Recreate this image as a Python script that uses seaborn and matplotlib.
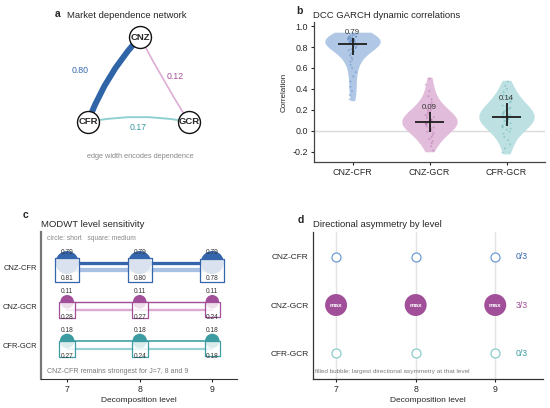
import numpy as np
import pandas as pd
import matplotlib
matplotlib.use('Agg')
import matplotlib.pyplot as plt
import seaborn as sns

# ---- data ----
pairs = ['CNZ-CFR', 'CNZ-GCR', 'CFR-GCR']
pair_colors = ['#3566ab', '#a24f99', '#3c9ca1']
light_colors = ['#a9c2e3', '#dcaad3', '#9ad2d4']
violin_colors = ['#b0c8e6', '#e2bcdb', '#bde1e2']
open_colors = ['#6f9bd2', '#a24f99', '#8ccacc']

# panel a: network
nodes = ['CNZ', 'CFR', 'GCR']
edge_pairs = [('CNZ', 'CFR'), ('CNZ', 'GCR'), ('CFR', 'GCR')]
edge_values = [0.80, 0.12, 0.17]

# panel b: DCC GARCH correlations
cnz_cfr = [0.93, 0.92, 0.91, 0.91, 0.90, 0.90, 0.90, 0.89, 0.89, 0.89, 0.88, 0.88,
           0.88, 0.88, 0.87, 0.87, 0.87, 0.87, 0.87, 0.86, 0.86, 0.86, 0.86, 0.85,
           0.85, 0.85, 0.84, 0.84, 0.83, 0.83, 0.82, 0.81, 0.80, 0.79, 0.78, 0.77,
           0.76, 0.75, 0.74, 0.72, 0.70, 0.68, 0.66, 0.63, 0.60, 0.56, 0.52, 0.47,
           0.42, 0.38, 0.34, 0.30]
cnz_gcr = [0.50, 0.44, 0.38, 0.33, 0.30, 0.27, 0.25, 0.23, 0.21, 0.20, 0.19, 0.18,
           0.17, 0.16, 0.15, 0.14, 0.13, 0.12, 0.11, 0.10, 0.10, 0.09, 0.09, 0.08,
           0.08, 0.07, 0.07, 0.06, 0.06, 0.05, 0.04, 0.03, 0.02, 0.01, 0.00, -0.01,
           -0.02, -0.04, -0.06, -0.08, -0.10, -0.12, -0.15, -0.19]
cfr_gcr = [0.47, 0.43, 0.40, 0.37, 0.34, 0.32, 0.30, 0.28, 0.27, 0.25, 0.24, 0.23,
           0.22, 0.21, 0.20, 0.19, 0.18, 0.17, 0.16, 0.15, 0.15, 0.14, 0.13, 0.13,
           0.12, 0.11, 0.11, 0.10, 0.09, 0.08, 0.07, 0.06, 0.05, 0.04, 0.03, 0.02,
           0.01, -0.01, -0.03, -0.06, -0.09, -0.13, -0.17, -0.21]
dcc_means = [0.79, 0.09, 0.14]
dcc_centre = [0.83, 0.08, 0.13]
dcc_low = [0.72, -0.01, 0.04]
dcc_high = [0.89, 0.18, 0.26]

# panel c: MODWT level sensitivity
levels = [7, 8, 9]
short_corr = {'CNZ-CFR': [0.79, 0.79, 0.79],
              'CNZ-GCR': [0.11, 0.11, 0.11],
              'CFR-GCR': [0.18, 0.18, 0.18]}
medium_corr = {'CNZ-CFR': [0.81, 0.80, 0.78],
               'CNZ-GCR': [0.28, 0.27, 0.24],
               'CFR-GCR': [0.27, 0.24, 0.18]}

# panel d: pair with largest directional asymmetry at each level
max_asym_pair = ['CNZ-GCR', 'CNZ-GCR', 'CNZ-GCR']

# ---- style ----
sns.set_theme(style='ticks')
plt.rcParams['font.family'] = ['Liberation Sans', 'DejaVu Sans']
plt.rcParams['axes.unicode_minus'] = False

W, H = 550, 408
fig = plt.figure(figsize=(5.5, 4.08), dpi=100)


def box(x0, y0, x1, y1):
    return [x0 / W, 1 - y1 / H, (x1 - x0) / W, (y1 - y0) / H]


def ftext(x, y, s, **kw):
    fig.text(x / W, 1 - y / H, s, **kw)


# ---- panel a ----
axa = fig.add_axes(box(40, 20, 240, 170))
axa.set_xlim(40, 240)
axa.set_ylim(170, 20)
axa.axis('off')
node_xy = {'CNZ': (140, 37), 'CFR': (88, 122), 'GCR': (189, 122)}
edge_colors = ['#2f64a6', '#dcaad3', '#8fcfd1']
edge_rad = [0.1, 0.02, -0.1]
label_offset = [(-34, -9), (11, -3), (0, 5)]
for (n1, n2), v, c, rad, lc, off in zip(edge_pairs, edge_values, edge_colors,
                                         edge_rad, pair_colors, label_offset):
    axa.annotate('', xy=node_xy[n2], xytext=node_xy[n1],
                 arrowprops=dict(arrowstyle='-', color=c, lw=0.6 + 4.6 * v,
                                 connectionstyle=f'arc3,rad={rad}',
                                 shrinkA=6, shrinkB=6), zorder=1)
    mx = (node_xy[n1][0] + node_xy[n2][0]) / 2 + off[0]
    my = (node_xy[n1][1] + node_xy[n2][1]) / 2 + off[1]
    axa.text(mx, my, f'{v:.2f}', color=lc, fontsize=6.3, ha='center', va='center')
axa.scatter([node_xy[n][0] for n in nodes], [node_xy[n][1] for n in nodes],
            s=250, facecolor='white', edgecolor='#111111', linewidth=1, zorder=3)
for n in nodes:
    axa.text(*node_xy[n], n, fontsize=6.8, fontweight='bold', ha='center',
             va='center', zorder=4)
axa.text(140, 156, 'edge width encodes dependence', color='#8a8a8a', fontsize=5.3,
         ha='center', va='center')
ftext(55, 14, 'a', fontsize=7.5, fontweight='bold', va='center')
ftext(67, 15, 'Market dependence network', fontsize=6.8, va='center')

# ---- panel b ----
axb = fig.add_axes(box(314, 22, 545, 162))
dcc = pd.DataFrame({
    'pair': ['CNZ-CFR'] * len(cnz_cfr) + ['CNZ-GCR'] * len(cnz_gcr) + ['CFR-GCR'] * len(cfr_gcr),
    'corr': cnz_cfr + cnz_gcr + cfr_gcr,
})
axb.axhline(0, color='#dadada', lw=1, zorder=0)
sns.violinplot(data=dcc, x='pair', y='corr', hue='pair', order=pairs, hue_order=pairs,
               palette=violin_colors, saturation=1, inner=None, cut=0.15,
               density_norm='width', width=0.72, linewidth=0, bw_adjust=1.15,
               legend=False, ax=axb)
np.random.seed(3)
sns.stripplot(data=dcc, x='pair', y='corr', hue='pair', order=pairs, hue_order=pairs,
              palette=pair_colors, size=1.4, alpha=0.35, jitter=0.06,
              legend=False, ax=axb, zorder=2)
xs = np.arange(len(pairs))
axb.hlines(dcc_centre, xs - 0.19, xs + 0.19, color='#1e1e1e', lw=1.3, zorder=4)
axb.vlines(xs, dcc_low, dcc_high, color='#1e1e1e', lw=1.3, zorder=4)
for x, hi, m in zip(xs, dcc_high, dcc_means):
    axb.text(x, hi + 0.045, f'{m:.2f}', fontsize=5.6, ha='center', va='center',
             color='#333333', zorder=5)
axb.set_xlim(-0.5, 2.5)
axb.set_ylim(-0.3, 1.04)
axb.set_yticks([-0.2, 0.0, 0.2, 0.4, 0.6, 0.8, 1.0])
axb.set_yticklabels([f'{t:.1f}' for t in [-0.2, 0.0, 0.2, 0.4, 0.6, 0.8, 1.0]])
axb.set_xlabel('')
axb.set_ylabel('Correlation', fontsize=5.8, labelpad=3)
axb.tick_params(labelsize=6.4, length=2.5, width=0.8, pad=2)
for s in ['left', 'bottom']:
    axb.spines[s].set_color('#444444')
    axb.spines[s].set_linewidth(0.9)
sns.despine(ax=axb)
ftext(296, 11, 'b', fontsize=7.5, fontweight='bold', va='center')
ftext(313, 15, 'DCC GARCH dynamic correlations', fontsize=6.8, va='center')

# ---- panel c ----
axc = fig.add_axes(box(41, 232, 237, 379))
for i, p in enumerate(pairs):
    yc = i - 0.12
    ys = i + 0.08
    sv = np.array(short_corr[p])
    mv = np.array(medium_corr[p])
    sns.lineplot(x=levels, y=[ys] * len(levels), color=light_colors[i],
                 lw=1.0 + 2.6 * mv.mean(), ax=axc, zorder=1)
    sns.lineplot(x=levels, y=[yc] * len(levels), color=pair_colors[i],
                 lw=0.8 + 2.0 * sv.mean(), ax=axc, zorder=1)
    axc.scatter(levels, [yc] * len(levels), s=((12 + 14 * sv) * 0.72) ** 2,
                color=pair_colors[i], edgecolor='none', zorder=3)
    axc.scatter(levels, [ys] * len(levels), s=((12 + 15 * mv) * 0.72) ** 2, marker='s',
                facecolor=(1, 1, 1, 0.82), edgecolor=pair_colors[i], linewidth=0.9,
                zorder=4)
    for x, a, b in zip(levels, sv, mv):
        axc.text(x, yc - 0.26, f'{a:.2f}', fontsize=4.8, ha='center', va='center',
                 color='#333333', zorder=6)
        axc.text(x, ys + 0.2, f'{b:.2f}', fontsize=4.8, ha='center', va='center',
                 color='#333333', zorder=6)
axc.set_xlim(6.64, 9.34)
axc.set_ylim(2.85, -0.9)
axc.set_xticks(levels)
axc.set_yticks(range(len(pairs)))
axc.set_yticklabels(pairs)
axc.set_xlabel('Decomposition level', fontsize=6, labelpad=2)
axc.tick_params(axis='y', length=0, labelsize=5.4, pad=3)
axc.tick_params(axis='x', length=2.5, width=0.8, labelsize=6.3, pad=2)
axc.text(6.72, -0.73, 'circle: short   square: medium', fontsize=4.9, color='#8a8a8a',
         va='center')
axc.text(6.72, 2.65, 'CNZ-CFR remains strongest for J=7, 8 and 9', fontsize=5,
         color='#7a7a7a', va='center')
sns.despine(ax=axc)
axc.spines['left'].set_color('#777777')
axc.spines['left'].set_linewidth(1.6)
axc.spines['bottom'].set_color('#333333')
axc.spines['bottom'].set_linewidth(0.8)
ftext(23, 215, 'c', fontsize=7.5, fontweight='bold', va='center')
ftext(41, 224, 'MODWT level sensitivity', fontsize=6.8, va='center')

# ---- panel d ----
axd = fig.add_axes(box(313, 232, 543, 379))
for x in levels:
    axd.axvline(x, color='#e4e4e4', lw=1, zorder=0)
for i, p in enumerate(pairs):
    for x, winner in zip(levels, max_asym_pair):
        if winner == p:
            axd.scatter([x], [i], s=250, color=pair_colors[i], edgecolor='none', zorder=3)
            axd.text(x, i, 'max', color='white', fontsize=4.6, fontweight='bold',
                     ha='center', va='center', zorder=4)
        else:
            axd.scatter([x], [i], s=42, facecolor='white', edgecolor=open_colors[i],
                        linewidth=0.9, zorder=3)
    count = sum(w == p for w in max_asym_pair)
    axd.text(9.33, i, f'{count}/{len(levels)}', color=pair_colors[i], fontsize=6.3,
             ha='center', va='center')
axd.set_xlim(6.71, 9.6)
axd.set_ylim(2.54, -0.52)
axd.set_xticks(levels)
axd.set_yticks(range(len(pairs)))
axd.set_yticklabels(pairs)
axd.set_xlabel('Decomposition level', fontsize=6, labelpad=2)
axd.tick_params(axis='y', length=0, labelsize=6.0, pad=3)
axd.tick_params(axis='x', length=2.5, width=0.8, labelsize=6.3, pad=2)
axd.text(6.74, 2.39, 'filled bubble: largest directional asymmetry at that level',
         fontsize=4.6, color='#7a7a7a', va='center')
sns.despine(ax=axd)
for s in ['left', 'bottom']:
    axd.spines[s].set_color('#333333')
    axd.spines[s].set_linewidth(0.9)
ftext(298, 220, 'd', fontsize=7.5, fontweight='bold', va='center')
ftext(313, 224, 'Directional asymmetry by level', fontsize=6.8, va='center')

fig.savefig('out.png', dpi=100)
